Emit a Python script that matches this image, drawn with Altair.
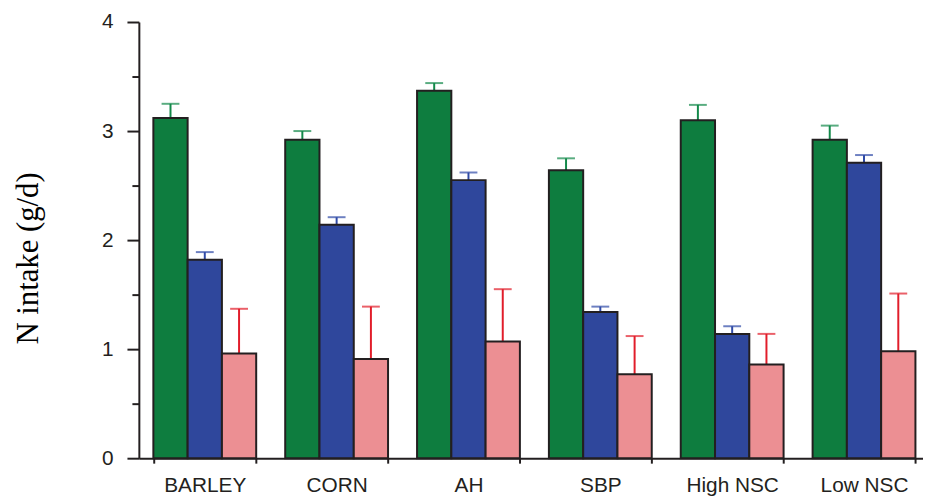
import altair as alt
import pandas as pd

categories = ["BARLEY", "CORN", "AH", "SBP", "High NSC", "Low NSC"]
series = ["Series 1", "Series 2", "Series 3"]
means_1 = [3.12, 2.92, 3.37, 2.64, 3.10, 2.92]
errs_1 = [0.13, 0.08, 0.07, 0.11, 0.14, 0.13]
means_2 = [1.82, 2.14, 2.55, 1.34, 1.14, 2.71]
errs_2 = [0.07, 0.07, 0.07, 0.05, 0.07, 0.07]
means_3 = [0.96, 0.91, 1.07, 0.77, 0.86, 0.98]
errs_3 = [0.41, 0.48, 0.48, 0.35, 0.28, 0.53]
y_ticks = [0, 0.5, 1, 1.5, 2, 2.5, 3, 3.5, 4]

bar_colors = ["#0e7d3f", "#2f479c", "#ec8f93"]
err_colors = ["#13894a", "#2f4aa6", "#e11d2a"]

rows = []
for s, m, e in zip(series, [means_1, means_2, means_3], [errs_1, errs_2, errs_3]):
    for c, mv, ev in zip(categories, m, e):
        rows.append({"cat": c, "series": s, "mean": mv, "top": mv + ev})
df = pd.DataFrame(rows)

ink = "#231f20"

x_enc = alt.X(
    "cat:N",
    sort=categories,
    title=None,
    scale=alt.Scale(range=[0, 798], paddingInner=0.22, paddingOuter=0.11),
    axis=alt.Axis(
        labelAngle=0,
        labelAlign="center",
        labelBaseline="top",
        labelFont="Liberation Sans",
        labelFontSize=21,
        labelColor=ink,
        labelPadding=12,
        tickBand="extent",
        tickSize=5,
        tickWidth=2,
        tickColor=ink,
        domainColor=ink,
        domainWidth=2,
    ),
)
xoff = alt.XOffset("series:N", sort=series, scale=alt.Scale(paddingInner=0, paddingOuter=0))

y_scale = alt.Scale(domain=[0, 4], nice=False)

bars = alt.Chart(df).mark_bar(stroke=ink, strokeWidth=2).encode(
    x=x_enc,
    xOffset=xoff,
    y=alt.Y(
        "mean:Q",
        scale=y_scale,
        title="N intake (g/d)",
        axis=alt.Axis(
            values=y_ticks,
            labelExpr="datum.value % 1 === 0 ? format(datum.value, 'd') : ''",
            labelFont="Liberation Sans",
            labelFontSize=21,
            labelColor=ink,
            labelPadding=14,
            tickSize={"condition": {"test": "datum.value % 1 === 0", "value": 12}, "value": 7},
            tickWidth=2,
            tickColor=ink,
            domainColor=ink,
            domainWidth=2,
            grid=False,
            titleFont="Liberation Serif",
            titleFontSize=31,
            titleFontWeight="normal",
            titleColor="black",
            titleAngle=270,
            titleBaseline="alphabetic",
            titleAlign="center",
            titleX=-102,
            titleY=238,
        ),
    ),
    color=alt.Color("series:N", sort=series, scale=alt.Scale(domain=series, range=bar_colors), legend=None),
)

rules = alt.Chart(df).mark_rule(strokeWidth=2).encode(
    x=alt.X("cat:N", sort=categories),
    xOffset=xoff,
    y=alt.Y("mean:Q", scale=y_scale),
    y2="top:Q",
    color=alt.Color("series:N", sort=series, scale=alt.Scale(domain=series, range=err_colors), legend=None),
)

caps = alt.Chart(df).mark_tick(thickness=2, size=18).encode(
    x=alt.X("cat:N", sort=categories),
    xOffset=xoff,
    y=alt.Y("top:Q", scale=y_scale),
    color=alt.Color("series:N", sort=series, scale=alt.Scale(domain=series, range=err_colors), legend=None),
)

chart = alt.layer(rules, caps, bars).resolve_scale(color="independent").properties(
    width=791,
    height=440,
    autosize=alt.AutoSizeParams(type="none"),
    padding={"left": 132, "top": 12, "right": 0, "bottom": 36},
).configure_view(stroke=None)

chart.save("out.html", embed_options={"renderer": "svg", "actions": False})
